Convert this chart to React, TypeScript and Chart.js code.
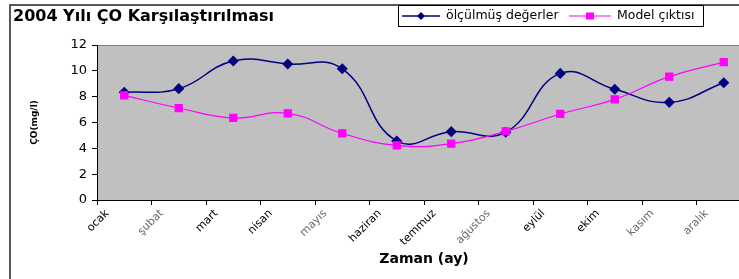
import React, { useEffect, useRef } from "react";
import { Chart, registerables } from "chart.js";

Chart.register(...registerables);

const months = ["ocak", "şubat", "mart", "nisan", "mayıs", "haziran", "temmuz", "ağustos", "eylül", "ekim", "kasım", "aralık"];
const measured = [8.34, 8.62, 10.76, 10.53, 10.16, 4.57, 5.29, 5.25, 9.8, 8.57, 7.56, 9.08];
const model = [8.1, 7.12, 6.35, 6.71, 5.16, 4.23, 4.36, 5.31, 6.66, 7.79, 9.55, 10.68];
const yTicks = [0, 2, 4, 6, 8, 10, 12];
const fadedLabels = ["şubat", "mayıs", "ağustos", "kasım", "aralık"];

const titleText = "2004 Yılı ÇO Karşılaştırılması";
const measuredName = "ölçülmüş değerler";
const modelName = "Model çıktısı";
const xTitle = "Zaman (ay)";
const yTitle = "ÇO(mg/l)";

const FONT = "'DejaVu Sans', sans-serif";

const framePlugin = {
  id: "framePlugin",
  beforeDraw(chart: any) {
    const { ctx, chartArea } = chart;
    ctx.save();
    ctx.fillStyle = "#ffffff";
    ctx.fillRect(0, 0, chart.width, chart.height);
    ctx.fillStyle = "#C0C0C0";
    ctx.fillRect(chartArea.left, chartArea.top, chartArea.right - chartArea.left, chartArea.bottom - chartArea.top);
    ctx.strokeStyle = "#808080";
    ctx.lineWidth = 1;
    ctx.beginPath();
    ctx.moveTo(chartArea.left, chartArea.top + 0.5);
    ctx.lineTo(chartArea.right, chartArea.top + 0.5);
    ctx.stroke();
    // outer frame
    ctx.strokeStyle = "#222222";
    ctx.lineWidth = 1.5;
    ctx.beginPath();
    ctx.moveTo(10, chart.height);
    ctx.lineTo(10, 5);
    ctx.lineTo(chart.width, 5);
    ctx.stroke();
    ctx.restore();
  },
  afterDraw(chart: any) {
    const { ctx } = chart;
    const ds = chart.data.datasets;
    ctx.save();
    // legend box
    ctx.fillStyle = "#ffffff";
    ctx.fillRect(398, 5, 305, 21);
    ctx.strokeStyle = "#000000";
    ctx.lineWidth = 1;
    ctx.strokeRect(398.5, 5.5, 305, 21);
    const cy = 16;
    const items = [
      { x0: 402, x1: 440, text: 0, tx: 446 },
      { x0: 569, x1: 611, text: 1, tx: 617 },
    ];
    items.forEach((it) => {
      const d = ds[it.text];
      ctx.strokeStyle = d.borderColor;
      ctx.lineWidth = d.borderWidth;
      ctx.beginPath();
      ctx.moveTo(it.x0, cy);
      ctx.lineTo(it.x1, cy);
      ctx.stroke();
      const mx = (it.x0 + it.x1) / 2;
      ctx.fillStyle = d.pointBackgroundColor;
      ctx.beginPath();
      if (d.pointStyle === "rectRot") {
        ctx.moveTo(mx, cy - 4);
        ctx.lineTo(mx + 4, cy);
        ctx.lineTo(mx, cy + 4);
        ctx.lineTo(mx - 4, cy);
        ctx.closePath();
      } else {
        ctx.rect(mx - 4, cy - 3.5, 8, 7);
      }
      ctx.fill();
      ctx.fillStyle = "#000000";
      ctx.font = `12.5px ${FONT}`;
      ctx.textBaseline = "middle";
      ctx.textAlign = "left";
      ctx.fillText(d.label, it.tx, cy);
    });
    ctx.restore();
  },
};

export default function App() {
  const ref = useRef<HTMLCanvasElement | null>(null);
  useEffect(() => {
    if (!ref.current) return;
    const chart = new Chart(ref.current, {
      type: "line",
      data: {
        labels: months,
        datasets: [
          {
            label: measuredName,
            data: measured,
            borderColor: "#000080",
            backgroundColor: "#000080",
            pointBackgroundColor: "#000080",
            pointBorderColor: "#000080",
            pointStyle: "rectRot",
            pointRadius: 4.5,
            borderWidth: 1.5,
            tension: 0.45,
            order: 1,
          },
          {
            label: modelName,
            data: model,
            borderColor: "#FF00FF",
            backgroundColor: "#FF00FF",
            pointBackgroundColor: "#FF00FF",
            pointBorderColor: "#FF00FF",
            pointStyle: "rect",
            pointRadius: 5,
            borderWidth: 1.2,
            tension: 0.45,
            order: 0,
          },
        ],
      },
      options: {
        responsive: false,
        animation: false,
        font: { family: FONT },
        layout: { padding: { left: 13, right: 9, top: 0, bottom: 0 } },
        plugins: {
          legend: { display: false },
          tooltip: { enabled: false },
          title: {
            display: true,
            text: titleText,
            align: "start",
            color: "#000",
            font: { family: FONT, size: 16, weight: "bold" },
            padding: { top: 7, bottom: 18.8 },
            lineHeight: 1.2,
          },
        },
        scales: {
          x: {
            type: "category",
            offset: true,
            grid: { drawOnChartArea: false, drawTicks: true, tickLength: 5, color: "#000", offset: true },
            border: { color: "#000", width: 1 },
            ticks: {
              autoSkip: false,
              minRotation: 45,
              maxRotation: 45,
              labelOffset: -17,
              padding: 2,
              font: { family: FONT, size: 11 },
              color: (c: any) => (fadedLabels.includes(months[c.index]) ? "#6a6a6a" : "#000"),
            },
            title: {
              display: true,
              text: xTitle,
              color: "#000",
              font: { family: FONT, size: 14, weight: "bold" },
              padding: { top: 0, bottom: 11 },
            },
            afterFit: (s: any) => {
              s.height = 79;
            },
          },
          y: {
            min: 0,
            max: 12,
            afterBuildTicks: (s: any) => {
              s.ticks = yTicks.map((v) => ({ value: v }));
            },
            grid: { drawOnChartArea: false, drawTicks: true, tickLength: 5, color: "#000" },
            border: { color: "#000", width: 1 },
            ticks: {
              padding: 5,
              color: "#000",
              font: { family: FONT, size: 13 },
            },
            title: {
              display: true,
              text: yTitle,
              color: "#000",
              font: { family: FONT, size: 9, weight: "bold" },
              padding: { top: 16, bottom: 0 },
            },
            afterFit: (s: any) => {
              s.width = 84;
            },
          },
        },
      },
      plugins: [framePlugin],
    });
    return () => chart.destroy();
  }, []);
  return (
    <div style={{ position: "fixed", left: 0, top: 0, width: 739, height: 279, overflow: "hidden", background: "#fff" }}>
      <canvas ref={ref} width={760} height={279} style={{ display: "block" }} />
    </div>
  );
}
